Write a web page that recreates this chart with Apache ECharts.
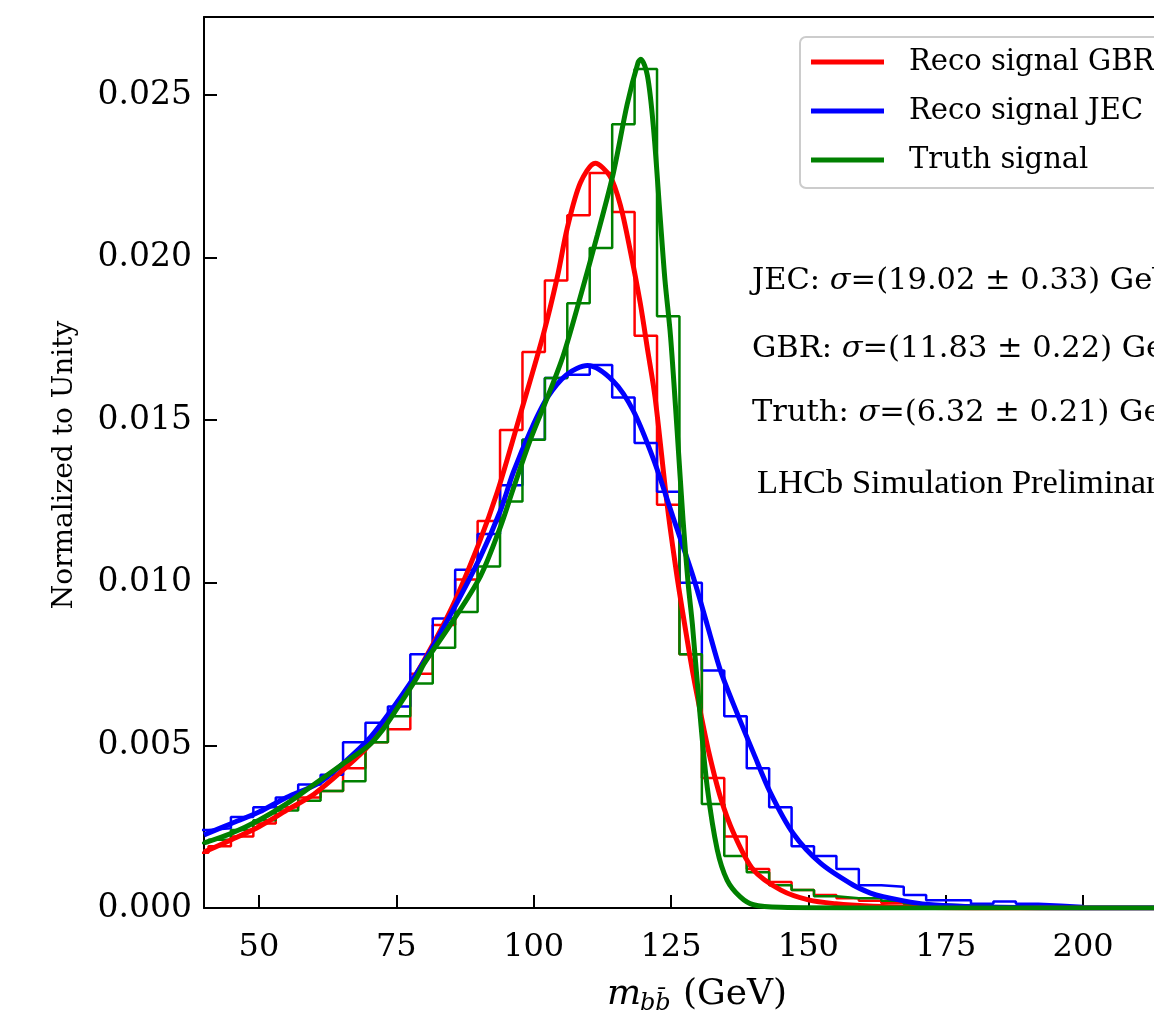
<!DOCTYPE html>
<html><head><meta charset="utf-8">
<script src="https://cdn.jsdelivr.net/npm/echarts@6/dist/echarts.min.js"></script>
<style>html,body{margin:0;padding:0;background:#fff;overflow:hidden}#c{width:1154px;height:1013px}</style>
</head><body><div id="c"></div>
<script>
// ---- data ----
const binEdges = [36.73,40.82,44.90,48.98,53.06,57.14,61.22,65.31,69.39,73.47,77.55,81.63,85.71,89.80,93.88,97.96,102.04,106.12,110.20,114.29,118.37,122.45,126.53,130.61,134.69,138.78,142.86,146.94,151.02,155.10,159.18,163.27,167.35,171.43,175.51,179.59,183.67,187.76,191.84,195.92,200.00];
const gbrHist = [0.0017,0.0019,0.0022,0.0026,0.0031,0.0034,0.0036,0.0043,0.0051,0.0055,0.0072,0.0087,0.0101,0.0119,0.0147,0.0171,0.0193,0.0213,0.0226,0.0214,0.0176,0.0124,0.0078,0.0040,0.0022,0.0012,0.0008,0.00055,0.0004,0.0003,0.00022,0.00015,0.0001,0.00008,0.00006,0.00005,0.00004,0.00003,0.00002,0.00002];
const jecHist = [0.0024,0.00245,0.0028,0.0031,0.0034,0.0038,0.0041,0.0051,0.0057,0.0062,0.0078,0.0089,0.0104,0.0115,0.0130,0.0144,0.0163,0.0164,0.0167,0.0157,0.0143,0.0128,0.0100,0.0073,0.0059,0.0043,0.0031,0.0019,0.0016,0.0012,0.0007,0.00065,0.0004,0.00024,0.00024,0.00013,0.0002,0.00013,0.0001,0.00006];
const truthHist = [0.0020,0.0021,0.0024,0.0027,0.0030,0.0033,0.0036,0.0039,0.0051,0.0059,0.0069,0.0080,0.0091,0.0105,0.0125,0.0144,0.0163,0.0186,0.0203,0.0241,0.0258,0.0182,0.0078,0.0032,0.0016,0.0011,0.0007,0.00055,0.00036,0.0003,0.0003,0.00022,0.00012,0.0001,0.00008,0.00006,0.00005,0.00004,0.00003,0.00003];

const gbrFitX = [40,45,50,55,60,65,70,75,80,85,90,93.4,97.6,101.7,104.3,106.1,108.5,111.2,113.9,115.8,117.6,119.4,120.7,122.1,124.3,126.0,127.5,129.0,130.5,132.0,134.0,136.4,140,145,150,155,161,170,180,200,220];
const gbrFitY = [0.00172,0.0021,0.0025,0.0030,0.0035,0.0042,0.0050,0.0062,0.0076,0.0092,0.0112,0.0128,0.0152,0.0176,0.0194,0.0209,0.0223,0.0229,0.0225,0.0216,0.0202,0.0186,0.0172,0.0157,0.0124,0.0103,0.0087,0.0072,0.0059,0.0047,0.0034,0.0023,0.00117,0.00055,0.00025,0.00013,0.00006,0.00002,0,0,0];
const jecFitX = [40,45,50,55,61,65,70,75,79.4,84.8,90.3,93.9,96.3,99.5,102.5,106,109.8,114.5,118.1,121.8,125.4,129.0,131.6,134.0,137.0,140.0,143.1,147.2,152.2,158.2,161.3,163.6,169.8,174.5,185,200,220];
const jecFitY = [0.00225,0.0026,0.00295,0.0034,0.00385,0.0044,0.0052,0.0063,0.0074,0.0090,0.0108,0.0122,0.0134,0.0147,0.0157,0.0164,0.01668,0.0162,0.0153,0.0138,0.0120,0.0102,0.0087,0.0073,0.0060,0.00477,0.00354,0.0023,0.00138,0.0007,0.00046,0.00035,0.00015,0.00008,0.00002,0,0];
const truthFitX = [40,45,50,55,60,65,70,72.6,75,78.8,80,84.8,90.3,93.9,96.3,99.4,102.5,105.4,108.5,111.6,114.5,117.0,119.0,119.5,120.7,121.8,123.0,123.9,124.9,126.1,127.2,128.1,128.9,130.3,131.6,133.4,135.2,137.6,140,145,160,220];
const truthFitY = [0.0020,0.0023,0.0027,0.0032,0.0038,0.0044,0.0050,0.0055,0.0061,0.0071,0.0075,0.0087,0.0102,0.0117,0.0129,0.0144,0.0157,0.0170,0.0188,0.0207,0.0226,0.0247,0.0260,0.0261,0.0256,0.0240,0.0213,0.0193,0.0176,0.0147,0.0119,0.0100,0.0087,0.0059,0.0037,0.0018,0.00086,0.00034,0.0001,0.00002,0,0];

const xTicks = [50,75,100,125,150,175,200];
const yTicks = [0,0.005,0.010,0.015,0.020,0.025];
const legendNames = ['Reco signal GBR','Reco signal JEC','Truth signal'];
const sigmaLines = [['JEC: ','=(19.02 ± 0.33) GeV'],['GBR: ','=(11.83 ± 0.22) GeV'],['Truth: ','=(6.32 ± 0.21) GeV']];
const lhcbText = 'LHCb Simulation Preliminary';
const xTitle = ['m','bb̄','(GeV)'];
const yTitle = 'Normalized to Unity';

// ---- build ----
function histPoints(vals){
  const pts=[[binEdges[0],0]];
  for(let i=0;i<vals.length;i++) pts.push([binEdges[i],vals[i]]);
  const n=vals.length;
  pts.push([binEdges[n],vals[n-1]]);
  pts.push([binEdges[n],0]);
  return pts;
}
function zip(a,b){return a.map((v,i)=>[v,b[i]]);}
const RED='#ff0000', BLUE='#0000ff', GREEN='#008000';
const SERIF='DejaVu Serif';

function hist(name,vals,color){
  return {name:name,type:'line',step:'end',data:histPoints(vals),showSymbol:false,symbol:'none',
    lineStyle:{color:color,width:2.5},itemStyle:{color:color},z:2,silent:true,animation:false};
}
function fit(name,xs,ys,color){
  return {name:name,type:'line',smooth:0.3,data:zip(xs,ys),showSymbol:false,symbol:'none',
    lineStyle:{color:color,width:5},itemStyle:{color:color},z:3,silent:true,animation:false};
}

const chart = echarts.init(document.getElementById('c'),null,{renderer:'canvas'});
const sigmaY=[281,349,413];
const graphics=[];
// legend frame (extends past the right edge like the reference)
graphics.push({type:'rect',z:10,silent:true,shape:{x:800,y:37,width:500,height:151,r:6},
  style:{fill:'rgba(255,255,255,0.8)',stroke:'#cccccc',lineWidth:2}});
sigmaLines.forEach((s,i)=>{
  graphics.push({type:'text',z:12,x:752,y:sigmaY[i],silent:true,
    style:{text:'{a|'+s[0]+'}{i|σ}{a|'+s[1]+'}',verticalAlign:'middle',rich:{
      a:{fontFamily:SERIF,fontSize:30.5,fill:'#000'},
      i:{fontFamily:SERIF,fontStyle:'italic',fontSize:30.5,fill:'#000'}}}});
});
graphics.push({type:'text',z:12,x:757,y:484,silent:true,style:{text:lhcbText,fontFamily:'Liberation Serif',fontSize:34.5,fill:'#000',verticalAlign:'middle'}});
graphics.push({type:'text',z:12,x:65,y:465,rotation:Math.PI/2,silent:true,style:{text:yTitle,fontFamily:SERIF,fontSize:28,fill:'#000',align:'center',verticalAlign:'middle'}});
graphics.push({type:'text',z:12,x:607,y:995,silent:true,style:{text:xTitle[0],fontFamily:SERIF,fontStyle:'italic',fontSize:36,fill:'#000',align:'left',verticalAlign:'middle'}});
graphics.push({type:'text',z:12,x:640,y:1004,silent:true,style:{text:xTitle[1],fontFamily:SERIF,fontStyle:'italic',fontSize:24,fill:'#000',align:'left',verticalAlign:'middle'}});
graphics.push({type:'text',z:12,x:683,y:995,silent:true,style:{text:xTitle[2],fontFamily:SERIF,fontSize:36,fill:'#000',align:'left',verticalAlign:'middle'}});

const XMIN=40, XMAX=212.9;
chart.setOption({
  animation:false,
  backgroundColor:'#ffffff',
  grid:{left:204,top:17,right:0,bottom:105,show:false},
  xAxis:[{type:'value',min:XMIN,max:XMAX,
    axisLine:{show:true,onZero:false,lineStyle:{color:'#000',width:2}},
    axisTick:{show:true,inside:true,length:13,lineStyle:{color:'#000',width:2},customValues:xTicks},
    axisLabel:{show:true,customValues:xTicks,margin:24,fontFamily:SERIF,fontSize:32,color:'#000'},
    splitLine:{show:false}},
    {type:'value',min:XMIN,max:XMAX,position:'top',
    axisLine:{show:true,onZero:false,lineStyle:{color:'#000',width:2}},
    axisTick:{show:false},axisLabel:{show:false},splitLine:{show:false}}],
  yAxis:{type:'value',min:0,max:0.0274,
    axisLine:{show:true,onZero:false,lineStyle:{color:'#000',width:2}},
    axisTick:{show:true,inside:true,length:13,lineStyle:{color:'#000',width:2},customValues:yTicks},
    axisLabel:{show:true,customValues:yTicks,margin:12,fontFamily:SERIF,fontSize:33,color:'#000',formatter:v=>v.toFixed(3)},
    splitLine:{show:false}},
  legend:{data:legendNames,orient:'vertical',left:800,top:37,icon:'rect',itemWidth:73,itemHeight:5,itemGap:19,z:11,
    padding:[10,0,13,11],backgroundColor:'transparent',borderWidth:0,
    textStyle:{fontFamily:SERIF,fontSize:29,color:'#000',lineHeight:30,padding:[0,0,0,20]},selectedMode:false},
  graphic:graphics,
  series:[
    hist('hGBR',gbrHist,RED),
    hist('hJEC',jecHist,BLUE),
    hist('hTruth',truthHist,GREEN),
    fit(legendNames[0],gbrFitX,gbrFitY,RED),
    fit(legendNames[1],jecFitX,jecFitY,BLUE),
    fit(legendNames[2],truthFitX,truthFitY,GREEN)
  ]
});
</script></body></html>
